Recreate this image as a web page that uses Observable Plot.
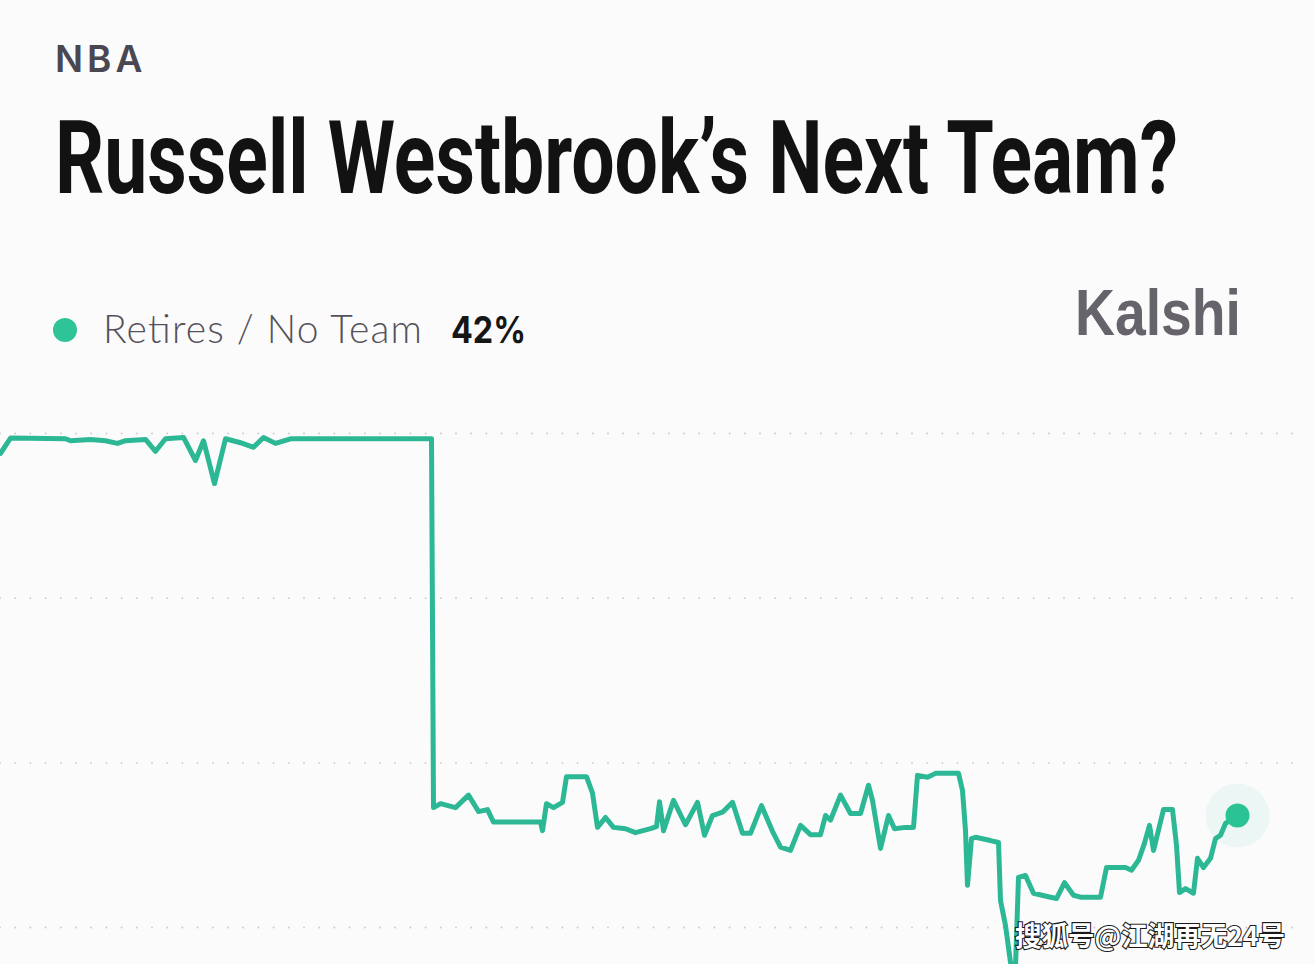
<!DOCTYPE html>
<html>
<head>
<meta charset="utf-8">
<script src="https://cdn.jsdelivr.net/npm/d3@7"></script>
<script src="https://cdn.jsdelivr.net/npm/@observablehq/plot@0.6"></script>
<style>
  html, body { margin: 0; padding: 0; background: #fbfbfc; }
  body { width: 1314px; height: 964px; position: relative; overflow: hidden; }
  #header { position: absolute; left: 0; top: 0; }
  #chart { position: absolute; left: 0; top: 400px; }
  #wm { position: absolute; left: 0; top: 0; pointer-events: none; }
</style>
</head>
<body>
<svg id="header" width="1314" height="400">
  <text x="55" y="72" font-family="Inter, 'Noto Sans', sans-serif" font-weight="600" font-size="37" letter-spacing="4" fill="#4b4751">NBA</text>
  <text transform="translate(55,193) scale(1,1.3)" x="0" y="0" font-family="Roboto, 'Liberation Sans', sans-serif" font-weight="700" font-size="78" fill="#121212" textLength="1123" lengthAdjust="spacingAndGlyphs">Russell Westbrook’s Next Team?</text>
  <circle cx="65" cy="330" r="12" fill="#2ec497"></circle>
  <text x="103" y="343" font-family="Lato, 'Open Sans', sans-serif" font-weight="300" font-size="39" fill="#55515a" textLength="319" lengthAdjust="spacing">Retires / No Team</text>
  <text x="451" y="343" font-family="Inter, 'Noto Sans', sans-serif" font-weight="700" font-size="37" fill="#161616" textLength="75" lengthAdjust="spacingAndGlyphs">42%</text>
  <text x="1075" y="335" font-family="'Liberation Sans', Arial, sans-serif" font-weight="700" font-size="65" fill="#67636a" textLength="166" lengthAdjust="spacingAndGlyphs">Kalshi</text>
</svg>
<div id="chart"></div>
<svg id="wm" width="1314" height="964">
  <text x="1015" y="946" font-family="'Noto Sans CJK SC', sans-serif" font-weight="700" font-size="27" fill="#ffffff" stroke="#1a1a1a" stroke-width="2.2" paint-order="stroke" textLength="270" lengthAdjust="spacingAndGlyphs">搜狐号@江湖再无24号</text>
</svg>
<script>
// time axis (days since start) and probability (%) for "Retires / No Team"
const day = [0, 1.0, 6.5, 7.0, 9.0, 10.5, 11.7, 12.5, 14.5, 15.5, 16.5, 18.3, 19.5, 20.3, 21.4, 22.5, 24.0, 25.3, 26.3, 27.5, 29.0, 43.1,
  43.3, 44.0, 45.5, 46.8, 47.8, 48.7, 49.3, 54.0, 54.2, 54.6, 55.3, 56.2, 56.6, 58.6, 59.2, 59.7, 60.5, 61.3, 62.5, 63.5, 65.0, 65.6,
  65.9, 66.3, 67.3, 68.5, 69.7, 70.4, 71.2, 72.2, 73.2, 74.2, 75.0, 76.1, 77.2, 78.0, 79.0, 80.0, 81.0, 82.0, 82.5, 83.0, 84.0, 85.0,
  86.0, 86.8, 87.2, 88.0, 88.8, 89.4, 90.5, 91.3, 91.7, 92.7, 93.5, 95.8, 96.2, 96.5, 96.7, 97.1, 97.5, 99.0, 99.8, 100.0, 100.5,
  101.0, 101.5, 101.8, 102.5, 103.3, 105.0, 105.6, 106.4, 107.3, 108.0, 110.0, 110.6, 112.5, 113.1, 113.8, 114.4, 114.9, 115.3,
  116.3, 117.2, 117.6, 117.9, 118.5, 119.3, 119.7, 120.3, 121.0, 121.5, 122.0, 122.5, 123.7];
const pct = [97.0, 99.3, 99.2, 98.9, 99.1, 98.9, 98.5, 98.9, 99.1, 97.3, 99.2, 99.4, 95.9, 98.9, 92.4, 99.2, 98.6, 97.9, 99.4, 98.5, 99.2, 99.2,
  43.2, 43.8, 43.2, 45.1, 42.6, 42.9, 41.0, 41.0, 39.7, 43.8, 43.2, 44.0, 47.9, 47.9, 45.4, 40.2, 41.7, 40.2, 40.0, 39.4, 40.0, 40.3,
  44.1, 39.7, 44.3, 40.6, 44.0, 39.0, 42.0, 42.5, 44.0, 39.3, 39.3, 43.5, 39.6, 37.2, 36.7, 40.5, 39.1, 39.1, 42.0, 41.3, 45.1, 42.3,
  42.3, 46.6, 44.3, 37.0, 42.0, 40.0, 40.2, 40.2, 48.1, 47.8, 48.4, 48.4, 45.8, 39.7, 31.4, 38.5, 38.7, 38.2, 37.9, 29.1, 25.3,
  19.7, 19.1, 32.6, 32.9, 30.2, 29.6, 29.4, 31.8, 29.9, 29.6, 29.6, 34.1, 34.1, 33.7, 35.2, 37.8, 40.5, 36.7,
  42.9, 42.9, 37.5, 30.3, 30.9, 30.2, 35.5, 34.1, 35.5, 38.5, 39.0, 40.8, 42.0];
const gridTicks = [25, 50, 75, 100];
const xDomain = [0, 130];
const yDomain = [25, 100];

const data = day.map((d, i) => ({day: d, pct: pct[i]}));
const last = [data[data.length - 1]];

const chart = Plot.plot({
  width: 1314,
  height: 564,
  marginLeft: 0,
  marginRight: 14,
  marginTop: 33,
  marginBottom: 37,
  style: {background: "transparent", overflow: "visible"},
  x: {domain: xDomain, axis: null},
  y: {domain: yDomain, axis: null},
  marks: [
    Plot.ruleY(gridTicks, {stroke: "#bdbdc3", strokeWidth: 1.8, strokeDasharray: "0 15.2", strokeLinecap: "round", strokeOpacity: 0.8}),
    Plot.dot(last, {x: "day", y: "pct", r: 32, fill: "#2fc796", fillOpacity: 0.07}),
    Plot.line(data, {x: "day", y: "pct", stroke: "#2cb894", strokeWidth: 5, strokeLinejoin: "round", strokeLinecap: "round"}),
    Plot.dot(last, {x: "day", y: "pct", r: 12, fill: "#2ac393"})
  ]
});
document.getElementById("chart").appendChild(chart);
</script>
</body>
</html>
